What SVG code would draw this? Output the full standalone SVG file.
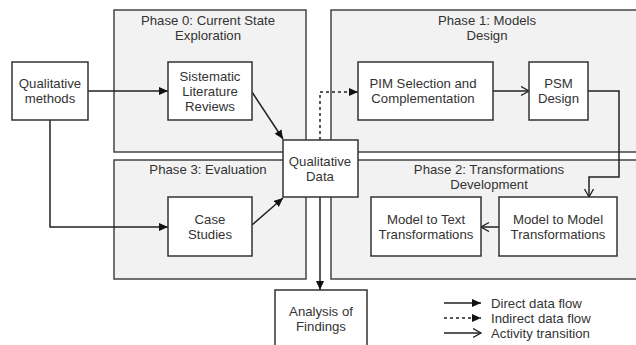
<svg xmlns="http://www.w3.org/2000/svg" width="636" height="345" viewBox="0 0 636 345">
  <style>
    .phase { fill: #f2f2f2; stroke: #444; stroke-width: 1.5; }
    .node { fill: #ffffff; stroke: #333; stroke-width: 1.5; }
    text { font-family: "Liberation Sans", Arial, sans-serif; font-size: 13.2px; fill: #333; text-anchor: middle; }
    .legend text { text-anchor: start; }
    .flow { fill: none; stroke: #222; stroke-width: 1.5; }
    .direct { marker-end: url(#solid); }
    .indirect { stroke-dasharray: 3 3; marker-end: url(#solid); }
    .transition { marker-end: url(#open); }
  </style>
  <defs>
    <marker id="solid" markerUnits="userSpaceOnUse" markerWidth="10" markerHeight="9" refX="9" refY="4" orient="auto">
      <path d="M0,0 L9,4 L0,8 z" fill="#111"/>
    </marker>
    <marker id="open" markerUnits="userSpaceOnUse" markerWidth="10" markerHeight="11" refX="8.5" refY="5" orient="auto">
      <path d="M0.5,0.5 L8.5,5 L0.5,9.5" fill="none" stroke="#222" stroke-width="1.3"/>
    </marker>
  </defs>

  <rect width="636" height="345" fill="#ffffff"/>

  <!-- phase containers -->
  <g id="phase0">
    <rect class="phase" x="114" y="10" width="192" height="142"/>
    <text x="208" y="25">Phase 0: Current State</text>
    <text x="208" y="40">Exploration</text>
  </g>
  <g id="phase1">
    <rect class="phase" x="331" y="10" width="320" height="142"/>
    <text x="487" y="25">Phase 1: Models</text>
    <text x="487" y="40">Design</text>
  </g>
  <g id="phase3">
    <rect class="phase" x="114" y="160" width="192" height="119"/>
    <text x="208" y="174">Phase 3: Evaluation</text>
  </g>
  <g id="phase2">
    <rect class="phase" x="331" y="160" width="320" height="119"/>
    <text x="489" y="174">Phase 2: Transformations</text>
    <text x="489" y="189">Development</text>
  </g>

  <!-- connectors -->
  <g id="connectors">
    <path class="flow direct" d="M88,91 H168"/>
    <path class="flow direct" d="M50,120 V227 H168"/>
    <path class="flow direct" d="M252,92 L283,139"/>
    <path class="flow direct" d="M252,225 L283,198"/>
    <path class="flow indirect" d="M320,140 V92 H358"/>
    <path class="flow transition" d="M493,91 H529"/>
    <path class="flow transition" d="M588,91 H619 V177 H589 V197"/>
    <path class="flow transition" d="M499,227 H481"/>
    <path class="flow direct" d="M320,197 V290"/>
  </g>

  <!-- activity nodes -->
  <g id="qualitative-methods">
    <rect class="node" x="12" y="62" width="76" height="58"/>
    <text x="50" y="88">Qualitative</text>
    <text x="50" y="103">methods</text>
  </g>
  <g id="literature-reviews">
    <rect class="node" x="168" y="62" width="84" height="58"/>
    <text x="210" y="81">Sistematic</text>
    <text x="210" y="96">Literature</text>
    <text x="210" y="111">Reviews</text>
  </g>
  <g id="case-studies">
    <rect class="node" x="168" y="197" width="84" height="59"/>
    <text x="210" y="224">Case</text>
    <text x="210" y="239">Studies</text>
  </g>
  <g id="qualitative-data">
    <rect class="node" x="283" y="140" width="75" height="57"/>
    <text x="320" y="166">Qualitative</text>
    <text x="320" y="181">Data</text>
  </g>
  <g id="pim-selection">
    <rect class="node" x="358" y="62" width="135" height="58"/>
    <text x="423" y="88">PIM Selection and</text>
    <text x="423" y="103">Complementation</text>
  </g>
  <g id="psm-design">
    <rect class="node" x="529" y="62" width="59" height="58"/>
    <text x="558.5" y="88">PSM</text>
    <text x="558.5" y="103">Design</text>
  </g>
  <g id="model-to-model">
    <rect class="node" x="499" y="197" width="118" height="59"/>
    <text x="558" y="224">Model to Model</text>
    <text x="558" y="239">Transformations</text>
  </g>
  <g id="model-to-text">
    <rect class="node" x="371" y="197" width="110" height="59"/>
    <text x="426" y="224">Model to Text</text>
    <text x="426" y="239">Transformations</text>
  </g>
  <g id="analysis-of-findings">
    <rect class="node" x="275" y="290" width="92" height="70"/>
    <text x="321" y="316">Analysis of</text>
    <text x="321" y="331">Findings</text>
  </g>

  <!-- legend -->
  <g id="legend" class="legend">
    <path class="flow direct" d="M444,303 H481"/>
    <path class="flow indirect" d="M444,318 H481"/>
    <path class="flow transition" d="M444,333 H481"/>
    <text x="491" y="308">Direct data flow</text>
    <text x="491" y="323">Indirect data flow</text>
    <text x="491" y="338">Activity transition</text>
  </g>
</svg>
